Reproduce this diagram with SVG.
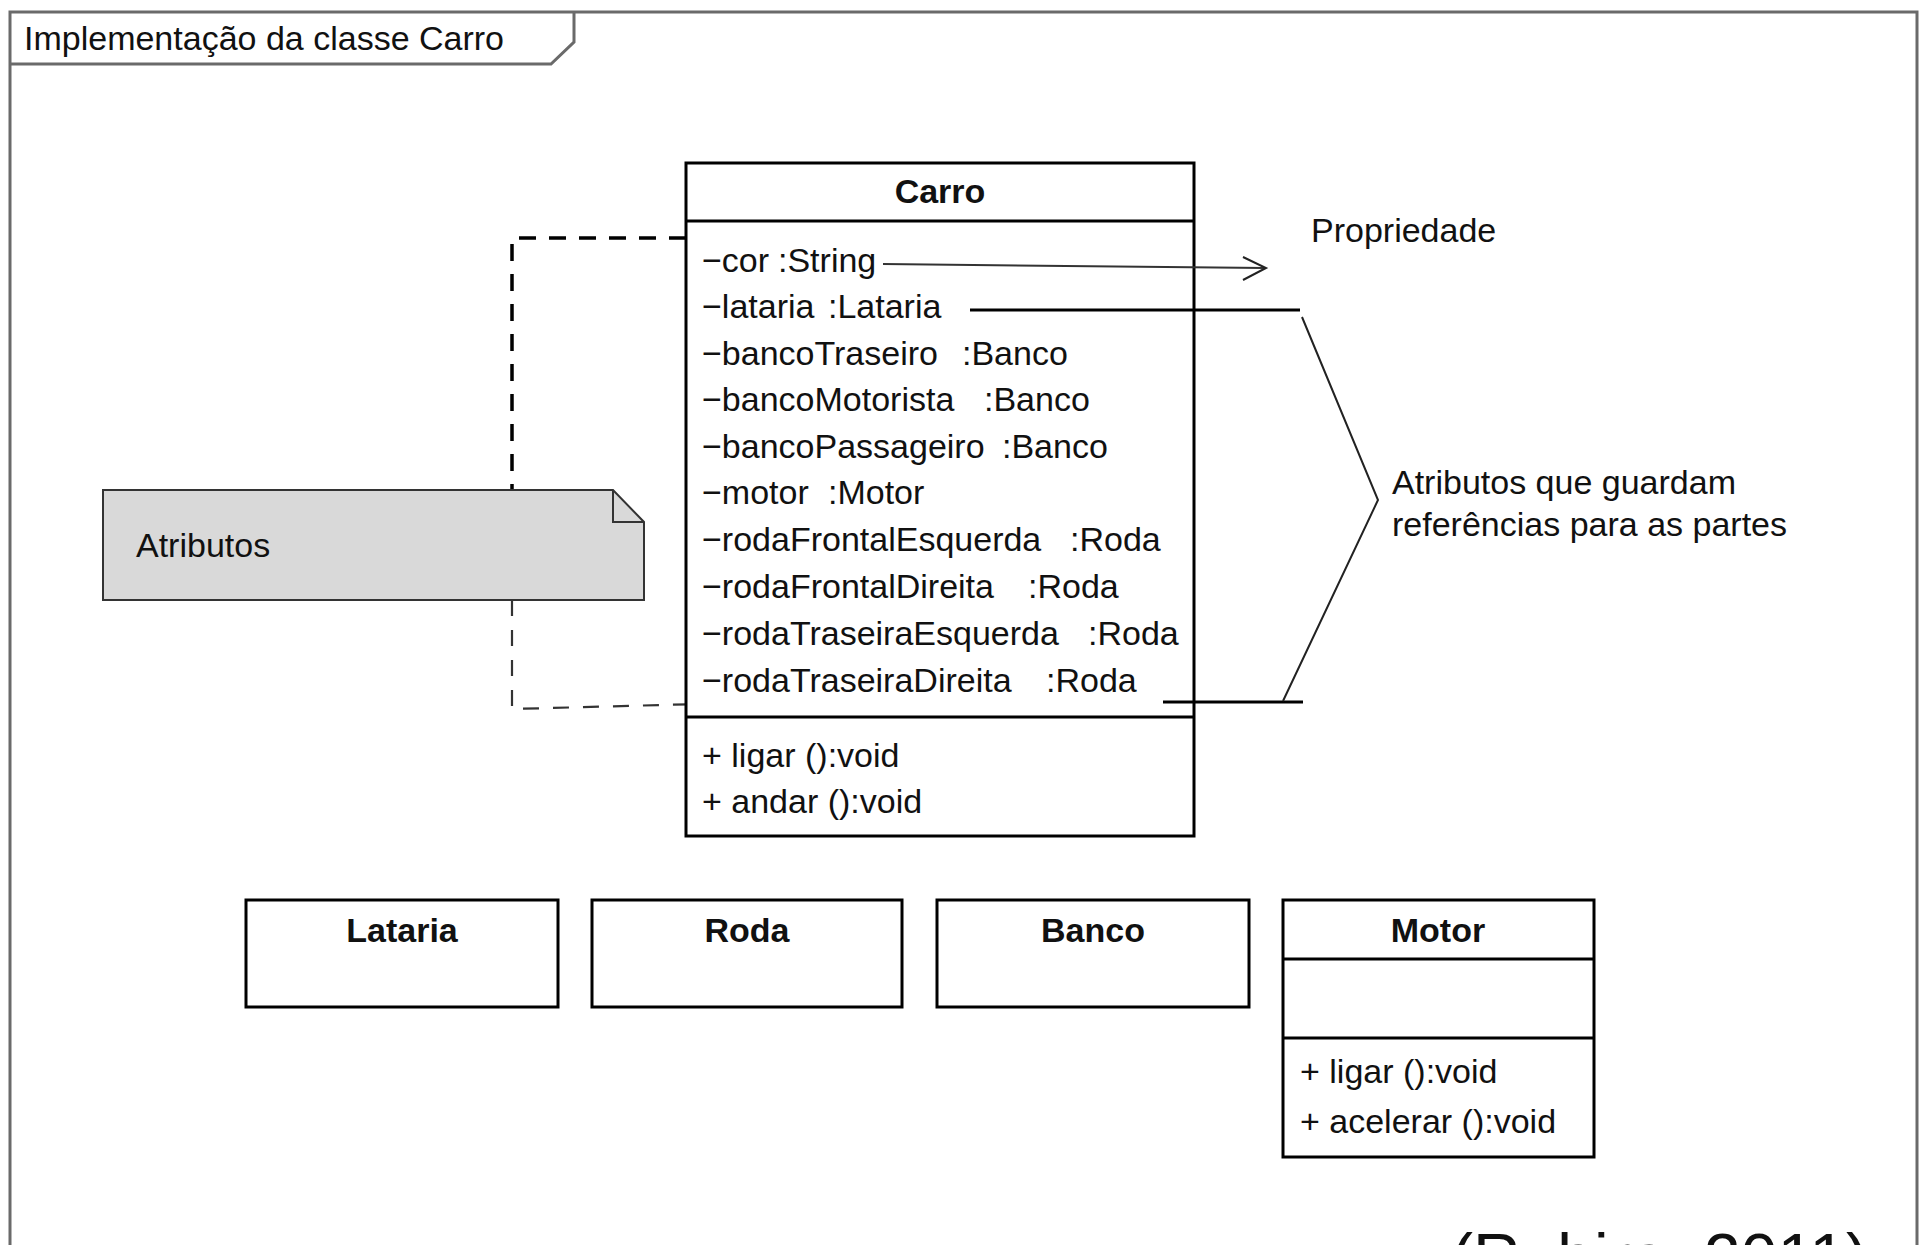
<svg xmlns="http://www.w3.org/2000/svg" width="1926" height="1245" viewBox="0 0 1926 1245">
<style>
text { font-family: "Liberation Sans", Arial, sans-serif; font-size: 34px; fill: #111; }
.b { font-weight: bold; }
.mid { text-anchor: middle; }
.box { fill: #fff; stroke: #000; stroke-width: 3; }
.sep { stroke: #000; stroke-width: 3; fill: none; }
.frame { fill: none; stroke: #6a6a6a; stroke-width: 3; }
.note { fill: #d9d9d9; stroke: #333; stroke-width: 2; }
.thin { fill: none; stroke: #222; stroke-width: 2; }
</style>
<rect x="0" y="0" width="1926" height="1245" fill="#fff"/>

<g id="frame">
  <path class="frame" d="M10,1250 V12 H1917 V1250"/>
  <path class="frame" d="M10,64 H551 L574,42 V12"/>
  <text x="24" y="50">Implementação da classe Carro</text>
</g>

<g id="connectors">
  <path d="M686,238 H512 V490" fill="none" stroke="#000" stroke-width="3.5" stroke-dasharray="17 13"/>
  <path d="M512,600 V709 L700,704" fill="none" stroke="#333" stroke-width="2.2" stroke-dasharray="16 14"/>
</g>

<g id="carro">
  <rect class="box" x="686" y="163" width="508" height="673"/>
  <line class="sep" x1="686" y1="221" x2="1194" y2="221"/>
  <line class="sep" x1="686" y1="717" x2="1194" y2="717"/>
  <text class="b mid" x="940" y="203">Carro</text>
  <text x="702" y="272">−cor<tspan x="778">:String</tspan></text>
  <text x="702" y="318">−lataria<tspan x="828">:Lataria</tspan></text>
  <text x="702" y="365">−bancoTraseiro<tspan x="962">:Banco</tspan></text>
  <text x="702" y="411">−bancoMotorista<tspan x="984">:Banco</tspan></text>
  <text x="702" y="458">−bancoPassageiro<tspan x="1002">:Banco</tspan></text>
  <text x="702" y="504">−motor<tspan x="828">:Motor</tspan></text>
  <text x="702" y="551">−rodaFrontalEsquerda<tspan x="1070">:Roda</tspan></text>
  <text x="702" y="598">−rodaFrontalDireita<tspan x="1028">:Roda</tspan></text>
  <text x="702" y="645">−rodaTraseiraEsquerda<tspan x="1088">:Roda</tspan></text>
  <text x="702" y="692">−rodaTraseiraDireita<tspan x="1046">:Roda</tspan></text>
  <text x="702" y="767">+ ligar ():void</text>
  <text x="702" y="813">+ andar ():void</text>
</g>

<g id="note-atributos">
  <path class="note" d="M103,490 H613 L644,522 V600 H103 Z"/>
  <path fill="none" stroke="#333" stroke-width="2" d="M613,490 V522 H644"/>
  <text x="136" y="557">Atributos</text>
</g>

<g id="annotations">
  <line x1="883" y1="264" x2="1265" y2="268" stroke="#333" stroke-width="2"/>
  <polyline class="thin" points="1243,257 1266,268 1243,280"/>
  <text x="1311" y="242">Propriedade</text>
  <line x1="970" y1="310" x2="1300" y2="310" stroke="#000" stroke-width="3"/>
  <line x1="1163" y1="702" x2="1303" y2="702" stroke="#000" stroke-width="3"/>
  <polyline class="thin" points="1302,317 1378,500 1283,701"/>
  <text x="1392" y="494">Atributos que guardam</text>
  <text x="1392" y="536">referências para as partes</text>
</g>

<g id="lataria">
  <rect class="box" x="246" y="900" width="312" height="107"/>
  <text class="b mid" x="402" y="942">Lataria</text>
</g>
<g id="roda">
  <rect class="box" x="592" y="900" width="310" height="107"/>
  <text class="b mid" x="747" y="942">Roda</text>
</g>
<g id="banco">
  <rect class="box" x="937" y="900" width="312" height="107"/>
  <text class="b mid" x="1093" y="942">Banco</text>
</g>
<g id="motor">
  <rect class="box" x="1283" y="900" width="311" height="257"/>
  <line class="sep" x1="1283" y1="959" x2="1594" y2="959"/>
  <line class="sep" x1="1283" y1="1038" x2="1594" y2="1038"/>
  <text class="b mid" x="1438" y="942">Motor</text>
  <text x="1300" y="1083">+ ligar ():void</text>
  <text x="1300" y="1133">+ acelerar ():void</text>
</g>

<text x="1451" y="1280" style="font-size:66px">(Rubira, 2011)</text>
</svg>
